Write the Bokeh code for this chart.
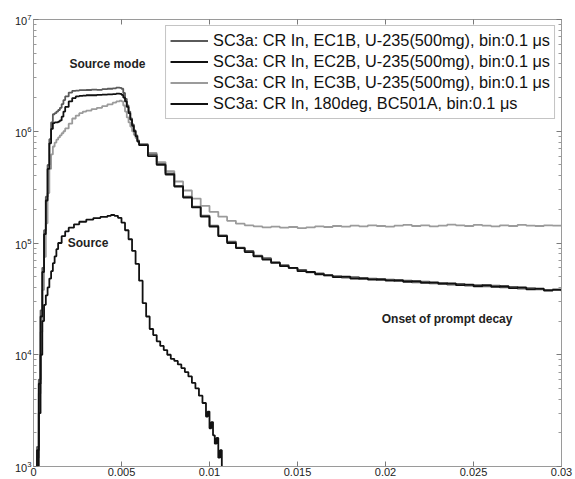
from bokeh.plotting import figure
from bokeh.models import LogAxis, LinearAxis, FixedTicker, Label, Legend, LegendItem
from bokeh.embed import file_html
from bokeh.resources import INLINE

# ---------------- data ----------------
time_early = [0.0000, 0.0001, 0.0002, 0.0003, 0.0004, 0.0005, 0.0006, 0.0007, 0.0008, 0.0009,
              0.0010, 0.0011, 0.0012, 0.0013, 0.0014, 0.0015, 0.0016, 0.0017, 0.0018, 0.0020,
              0.0022, 0.0024, 0.0026, 0.0028, 0.0030, 0.0033, 0.0036, 0.0039, 0.0042, 0.0045,
              0.0047, 0.0049, 0.0050, 0.0051, 0.0052, 0.0053, 0.0054, 0.0055, 0.0056, 0.0057,
              0.0058, 0.0059]
time_tail = [0.0060, 0.0065, 0.0070, 0.0075, 0.0080, 0.0085, 0.0090, 0.0095, 0.0100, 0.0105,
             0.0110, 0.0115, 0.0120, 0.0125, 0.0130, 0.0135, 0.0140, 0.0145, 0.0150, 0.0155,
             0.0160, 0.0165, 0.0170, 0.0175, 0.0180, 0.0185, 0.0190, 0.0195, 0.0200, 0.0205,
             0.0210, 0.0215, 0.0220, 0.0225, 0.0230, 0.0235, 0.0240, 0.0245, 0.0250, 0.0255,
             0.0260, 0.0265, 0.0270, 0.0275, 0.0280, 0.0285, 0.0290, 0.0295, 0.0300]

ec1b_early = [200, 400, 1500, 6000, 2.5e4, 6e4, 1.3e5, 2.6e5, 5e5, 8.5e5,
              1.2e6, 1.42e6, 1.45e6, 1.5e6, 1.55e6, 1.62e6, 1.75e6, 1.9e6, 2.05e6,
              2.22e6, 2.3e6, 2.31e6, 2.33e6, 2.33e6, 2.34e6,
              2.36e6, 2.35e6, 2.38e6, 2.4e6, 2.42e6,
              2.46e6, 2.44e6,
              2.4e6, 2.2e6, 1.95e6, 1.7e6, 1.5e6, 1.3e6, 1.15e6, 1.02e6, 9.2e5, 8.3e5]
ec1b_tail = [7.6e5, 6.2e5, 5.1e5, 4.2e5, 3.25e5, 2.6e5, 2.12e5, 1.76e5, 1.43e5, 1.17e5,
             1.03e5, 9.1e4, 8.5e4, 7.7e4, 7.3e4, 6.6e4, 6.35e4, 5.95e4, 5.75e4, 5.45e4,
             5.35e4, 5.1e4, 5.05e4, 4.9e4, 4.95e4, 4.75e4, 4.8e4, 4.65e4, 4.7e4, 4.55e4,
             4.6e4, 4.45e4, 4.5e4, 4.35e4, 4.4e4, 4.25e4, 4.3e4, 4.15e4, 4.2e4, 4.1e4,
             4.15e4, 4.0e4, 4.05e4, 3.9e4, 3.95e4, 3.85e4, 3.8e4, 3.85e4, 3.7e4]

ec2b_early = [200, 400, 1400, 5500, 2.2e4, 5.5e4, 1.2e5, 2.4e5, 4.6e5, 7.8e5,
              1.05e6, 1.18e6, 1.2e6, 1.2e6, 1.22e6, 1.25e6, 1.35e6, 1.5e6, 1.65e6,
              1.85e6, 1.98e6, 2.05e6, 2.07e6, 2.08e6, 2.1e6,
              2.1e6, 2.12e6, 2.13e6, 2.14e6, 2.15e6,
              2.17e6, 2.16e6,
              2.12e6, 2.0e6, 1.85e6, 1.65e6, 1.45e6, 1.27e6, 1.12e6, 1.0e6, 9.0e5, 8.1e5]
ec2b_tail = [7.5e5, 6.0e5, 5.0e5, 4.1e5, 3.2e5, 2.55e5, 2.08e5, 1.72e5, 1.4e5, 1.15e5,
             1.0e5, 9.0e4, 8.3e4, 7.6e4, 7.1e4, 6.7e4, 6.2e4, 6.0e4, 5.6e4, 5.5e4,
             5.25e4, 5.15e4, 4.95e4, 5.0e4, 4.8e4, 4.85e4, 4.7e4, 4.75e4, 4.6e4, 4.65e4,
             4.5e4, 4.55e4, 4.4e4, 4.45e4, 4.3e4, 4.35e4, 4.2e4, 4.25e4, 4.1e4, 4.2e4,
             4.05e4, 4.1e4, 3.95e4, 4.0e4, 3.85e4, 3.9e4, 3.75e4, 3.8e4, 3.75e4]

ec3b_early = [200, 350, 1200, 4500, 1.6e4, 3.8e4, 7.5e4, 1.5e5, 2.8e5, 4.6e5,
              6.2e5, 7.3e5, 7.9e5, 8.4e5, 8.8e5, 9.2e5, 9.6e5, 1.0e6, 1.06e6,
              1.17e6, 1.3e6, 1.38e6, 1.45e6, 1.5e6, 1.53e6,
              1.58e6, 1.62e6, 1.68e6, 1.74e6, 1.8e6,
              1.85e6, 1.88e6,
              1.85e6, 1.7e6, 1.5e6, 1.33e6, 1.2e6, 1.1e6, 1.0e6, 9.3e5, 8.7e5, 8.2e5]
ec3b_tail = [7.7e5, 6.4e5, 5.3e5, 4.4e5, 3.55e5, 2.95e5, 2.5e5, 2.15e5, 1.9e5, 1.72e5,
             1.58e5, 1.49e5, 1.44e5, 1.41e5, 1.38e5, 1.4e5, 1.37e5, 1.39e5, 1.36e5, 1.38e5,
             1.41e5, 1.39e5, 1.42e5, 1.4e5, 1.43e5, 1.41e5, 1.44e5, 1.42e5, 1.4e5, 1.43e5,
             1.45e5, 1.42e5, 1.44e5, 1.41e5, 1.43e5, 1.46e5, 1.44e5, 1.42e5, 1.45e5, 1.43e5,
             1.41e5, 1.44e5, 1.42e5, 1.45e5, 1.43e5, 1.42e5, 1.44e5, 1.43e5, 1.42e5]

time_src = [0.0000, 0.0002, 0.0003, 0.0004, 0.0005, 0.0006, 0.0007, 0.0008, 0.0009, 0.0010,
            0.0011, 0.0012, 0.0013, 0.0014, 0.0016, 0.0018, 0.0020, 0.0023, 0.0026, 0.0030,
            0.0034, 0.0038, 0.0042, 0.0044, 0.0046, 0.0048, 0.0050, 0.0052, 0.0054, 0.0056,
            0.0058, 0.0060, 0.0062, 0.0064, 0.0066, 0.0068, 0.0070, 0.0072, 0.0074, 0.0076,
            0.0078, 0.0080, 0.0082, 0.0084, 0.0086, 0.0088, 0.0090, 0.0092, 0.0094, 0.0096,
            0.0098, 0.0099, 0.0100, 0.0101, 0.0102, 0.0103, 0.0104, 0.0105, 0.0106, 0.0107]
bc501a_counts = [200, 800, 3000, 1.0e4, 2.0e4, 2.8e4, 3.4e4, 4.0e4, 4.8e4, 5.6e4,
                 6.6e4, 7.6e4, 8.8e4, 1.0e5, 1.15e5, 1.27e5, 1.37e5, 1.47e5, 1.55e5, 1.62e5,
                 1.67e5, 1.71e5, 1.75e5, 1.78e5, 1.75e5, 1.68e5, 1.52e5, 1.3e5, 1.08e5, 8.5e4,
                 6.5e4, 4.6e4, 2.9e4, 2.2e4, 1.7e4, 1.5e4, 1.32e4, 1.2e4, 1.1e4, 1.0e4,
                 9.2e3, 8.8e3, 8.2e3, 7.6e3, 7.0e3, 6.4e3, 5.6e3, 5.0e3, 4.3e3, 3.7e3,
                 2.8e3, 3.1e3, 2.2e3, 2.5e3, 1.9e3, 1.6e3, 1.8e3, 1.2e3, 1.4e3, 800]

legend_labels = ["SC3a: CR In, EC1B, U-235(500mg), bin:0.1 μs",
                 "SC3a: CR In, EC2B, U-235(500mg), bin:0.1 μs",
                 "SC3a: CR In, EC3B, U-235(500mg), bin:0.1 μs",
                 "SC3a: CR In, 180deg, BC501A, bin:0.1 μs"]
x_ticks = [0, 0.005, 0.01, 0.015, 0.02, 0.025, 0.03]
x_tick_labels = ["0", "0.005", "0.01", "0.015", "0.02", "0.025", "0.03"]
y_ticks = [1e3, 1e4, 1e5, 1e6, 1e7]

# ---------------- figure ----------------
FONT = "Liberation Sans"
p = figure(width=575, height=479, x_range=(0, 0.03), y_range=(1e3, 1e7),
           y_axis_type="log", output_backend="svg", toolbar_location=None,
           min_border_left=33, min_border_right=14, min_border_top=19, min_border_bottom=13)
p.xgrid.visible = False
p.ygrid.visible = False
p.background_fill_color = "white"
p.border_fill_color = "white"
p.outline_line_color = "#9a9a9a"

t_all = time_early + time_tail
r3 = p.step(t_all, ec3b_early + ec3b_tail, mode="after", line_color="#9b9b9b", line_width=1.8)
r1 = p.step(t_all, ec1b_early + ec1b_tail, mode="after", line_color="#5a5a5a", line_width=1.8)
r2 = p.step(t_all, ec2b_early + ec2b_tail, mode="after", line_color="#111111", line_width=1.8)
r4 = p.step(time_src, bc501a_counts, mode="after", line_color="#111111", line_width=1.8)

legend = Legend(items=[LegendItem(label=legend_labels[0], renderers=[r1]),
                       LegendItem(label=legend_labels[1], renderers=[r2]),
                       LegendItem(label=legend_labels[2], renderers=[r3]),
                       LegendItem(label=legend_labels[3], renderers=[r4])],
                location="top_right", margin=6, padding=4, spacing=0,
                label_text_font=FONT, label_text_font_size="16.3px", label_text_color="#111111",
                label_height=21, glyph_height=21, glyph_width=38, label_standoff=5,
                border_line_color="#8a8a8a", border_line_width=1,
                background_fill_color="white", background_fill_alpha=1.0)
p.add_layout(legend)

minor_y = [m * d for d in [1e3, 1e4, 1e5, 1e6] for m in range(2, 10)]

def style_axis(ax, labels=True):
    ax.axis_line_color = "#9a9a9a"
    ax.major_tick_line_color = "#7a7a7a"
    ax.minor_tick_line_color = "#9a9a9a"
    ax.major_tick_in = 5
    ax.major_tick_out = 0
    ax.minor_tick_in = 3
    ax.minor_tick_out = 0
    ax.major_label_text_font = FONT
    ax.major_label_text_font_size = "11px" if labels else "1px"
    ax.major_label_text_color = "#222222"
    ax.major_label_standoff = 2 if labels else 0

xa = p.xaxis[0]
xa.ticker = FixedTicker(ticks=x_ticks)
xa.major_label_overrides = {t: s for t, s in zip(x_ticks, x_tick_labels)}
style_axis(xa)
xa.major_label_standoff = 1
xa.minor_tick_line_color = None

ya = p.yaxis[0]
ya.ticker = FixedTicker(ticks=y_ticks, minor_ticks=minor_y)
style_axis(ya)

ra = LogAxis(ticker=FixedTicker(ticks=y_ticks, minor_ticks=minor_y))
style_axis(ra, labels=False)
ra.major_label_overrides = {t: "" for t in y_ticks}
p.add_layout(ra, "right")

ta = LinearAxis(ticker=FixedTicker(ticks=x_ticks))
style_axis(ta, labels=False)
ta.major_label_overrides = {t: "" for t in x_ticks}
ta.minor_tick_line_color = None
p.add_layout(ta, "above")

for txt, x, y in [("Source mode", 0.0042, 4.0e6), ("Source", 0.0031, 1.0e5),
                  ("Onset of prompt decay", 0.0235, 2.07e4)]:
    p.add_layout(Label(x=x, y=y, text=txt, text_font=FONT, text_font_size="12px",
                       text_font_style="bold", text_align="center", text_baseline="middle",
                       text_color="#222222"))

open("out.html", "w").write(file_html(p, INLINE))
